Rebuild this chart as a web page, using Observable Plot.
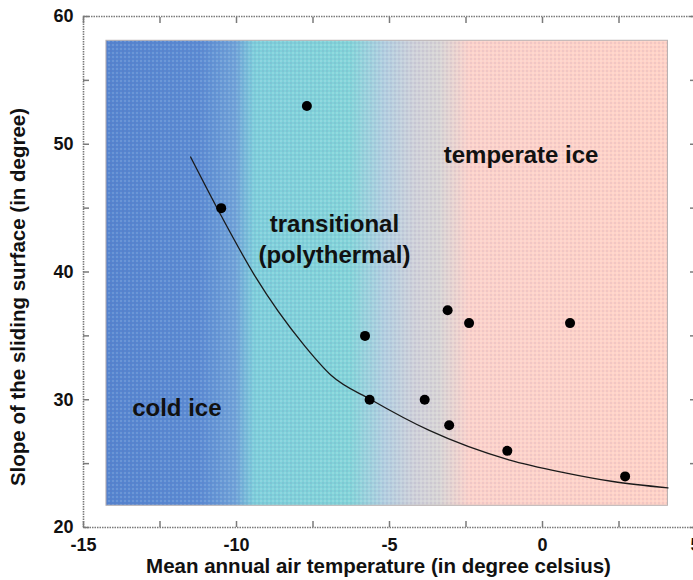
<!DOCTYPE html>
<html><head><meta charset="utf-8">
<script src="https://cdn.jsdelivr.net/npm/d3@7"></script>
<script src="https://cdn.jsdelivr.net/npm/@observablehq/plot@0.6"></script>
<style>body{margin:0;background:#fff} svg{display:block}</style>
</head><body><div id="chart"></div>
<script>
// Observed glaciers
const temperature = [-7.7, -10.5, -5.8, -3.1, -2.4, 0.9, -5.65, -3.85, -3.05, -1.15, 2.7];
const slope = [53, 45, 35, 37, 36, 36, 30, 30, 28, 26, 24];
// Boundary curve
const curveTemp = [-11.5, -10.5, -9.4, -7.8, -6.9, -5.6, -3.7, -1.1, 0.7, 2.3, 4.1];
const curveSlope = [49.0, 44.4, 39.7, 34.3, 31.9, 30.0, 27.6, 25.3, 24.3, 23.6, 23.1];
// Ticks
const xMajor = [-15, -10, -5, 0, 5];
const xMinor = [-12.5, -7.5, -2.5, 2.5];
const yMajor = [20, 30, 40, 50, 60];
const yMinor = [25, 35, 45, 55];
// Region labels
const regionLabels = ["cold ice", "transitional\n(polythermal)", "temperate ice"];
const regionLabelX = [-11.95, -6.8, -0.7];
const regionLabelY = [29.5, 42.7, 49.3];
// Shaded background extent
const backgroundX = [-14.25, 4.1];
const backgroundY = [21.7, 58.1];
const xTitle = "Mean annual air temperature (in degree celsius)";
const yTitle = "Slope of the sliding surface (in degree)";

const points = temperature.map((t, i) => ({t, s: slope[i]}));
const curve = curveTemp.map((t, i) => ({t, s: curveSlope[i]}));
const labels = regionLabels.map((text, i) => ({text, x: regionLabelX[i], y: regionLabelY[i]}));
const bg = [{x1: backgroundX[0], x2: backgroundX[1], y1: backgroundY[0], y2: backgroundY[1]}];

const axisColor = "#7a7a7a";
const fmt = d => String(d);
const tickOpts = {fill: "none", label: null, stroke: axisColor, strokeWidth: 1.5, tickSize: 6};
const chart = Plot.plot({
  width: 693,
  height: 580,
  marginLeft: 83,
  marginRight: -2,
  marginTop: 16,
  marginBottom: 53,
  style: {fontFamily: "'Liberation Sans', Arial, Helvetica, sans-serif", color: "#111", background: "#fff"},
  x: {domain: [-15, 5]},
  y: {domain: [20, 60]},
  marks: [
    Plot.rect(bg, {x1: "x1", x2: "x2", y1: "y1", y2: "y2", fill: "url(#bgGrad)"}),
    Plot.rect(bg, {x1: "x1", x2: "x2", y1: "y1", y2: "y2", fill: "url(#dots)", stroke: "#b8b0b0", strokeWidth: 1}),
    Plot.line(curve, {x: "t", y: "s", curve: "monotone-x", stroke: "#1a1a1a", strokeWidth: 1.3}),
    Plot.dot(points, {x: "t", y: "s", r: 5, fill: "#000", stroke: "none"}),
    Plot.text(labels, {x: "x", y: "y", text: "text", fontSize: 24, fontWeight: "bold", lineHeight: 1.3, fill: "#111"}),
    Plot.frame({stroke: axisColor, strokeWidth: 1.6, strokeDasharray: "1.5,1"}),
    // inward tick marks
    Plot.axisX([...xMajor, ...xMinor], {anchor: "bottom", dy: -6, ...tickOpts}),
    Plot.axisX([...xMajor, ...xMinor], {anchor: "top", dy: 6, ...tickOpts}),
    Plot.axisY([...yMajor, ...yMinor], {anchor: "left", dx: 6, ...tickOpts}),
    Plot.axisY([...yMajor, ...yMinor], {anchor: "right", dx: -6, ...tickOpts}),
    // tick labels
    Plot.axisX(xMajor, {anchor: "bottom", tickSize: 0, tickPadding: 11, stroke: "none", label: null, tickFormat: fmt, fontSize: 18, fontWeight: "bold", fill: "#111"}),
    Plot.axisY(yMajor, {anchor: "left", tickSize: 0, tickPadding: 10, stroke: "none", label: null, tickFormat: fmt, fontSize: 18, fontWeight: "bold", fill: "#111"}),
    // axis titles
    Plot.text([xTitle], {frameAnchor: "bottom", textAnchor: "middle", lineAnchor: "middle", dx: -11, dy: 39, text: d => d, fontSize: 20.5, fontWeight: "bold", fill: "#111"}),
    Plot.text([yTitle], {frameAnchor: "left", textAnchor: "middle", lineAnchor: "middle", dx: -65, dy: 25, rotate: -90, text: d => d, fontSize: 20.5, fontWeight: "bold", fill: "#111"})
  ]
});

document.getElementById("chart").appendChild(chart);

const svg = d3.select(chart);
const defs = svg.insert("defs", ":first-child");
const grad = defs.append("linearGradient").attr("id", "bgGrad").attr("x1", 0).attr("x2", 1).attr("y1", 0).attr("y2", 0);
[[0, "#5484cf"], [0.167, "#5a8bd3"], [0.23, "#6ea2d8"], [0.265, "#7dcfdb"], [0.434, "#82d4d9"],
 [0.496, "#b2cfe0"], [0.55, "#cfd1d9"], [0.594, "#d8d5d5"], [0.648, "#fcd2ca"], [1, "#ffd2c6"]]
  .forEach(([o, c]) => grad.append("stop").attr("offset", o).attr("stop-color", c));
const pat = defs.append("pattern").attr("id", "dots").attr("width", 4).attr("height", 4).attr("patternUnits", "userSpaceOnUse");
pat.append("circle").attr("cx", 1).attr("cy", 1).attr("r", 0.8).attr("fill", "rgba(255,255,255,0.3)");
pat.append("circle").attr("cx", 3).attr("cy", 3).attr("r", 0.8).attr("fill", "rgba(110,70,150,0.2)");
</script>
</body></html>
